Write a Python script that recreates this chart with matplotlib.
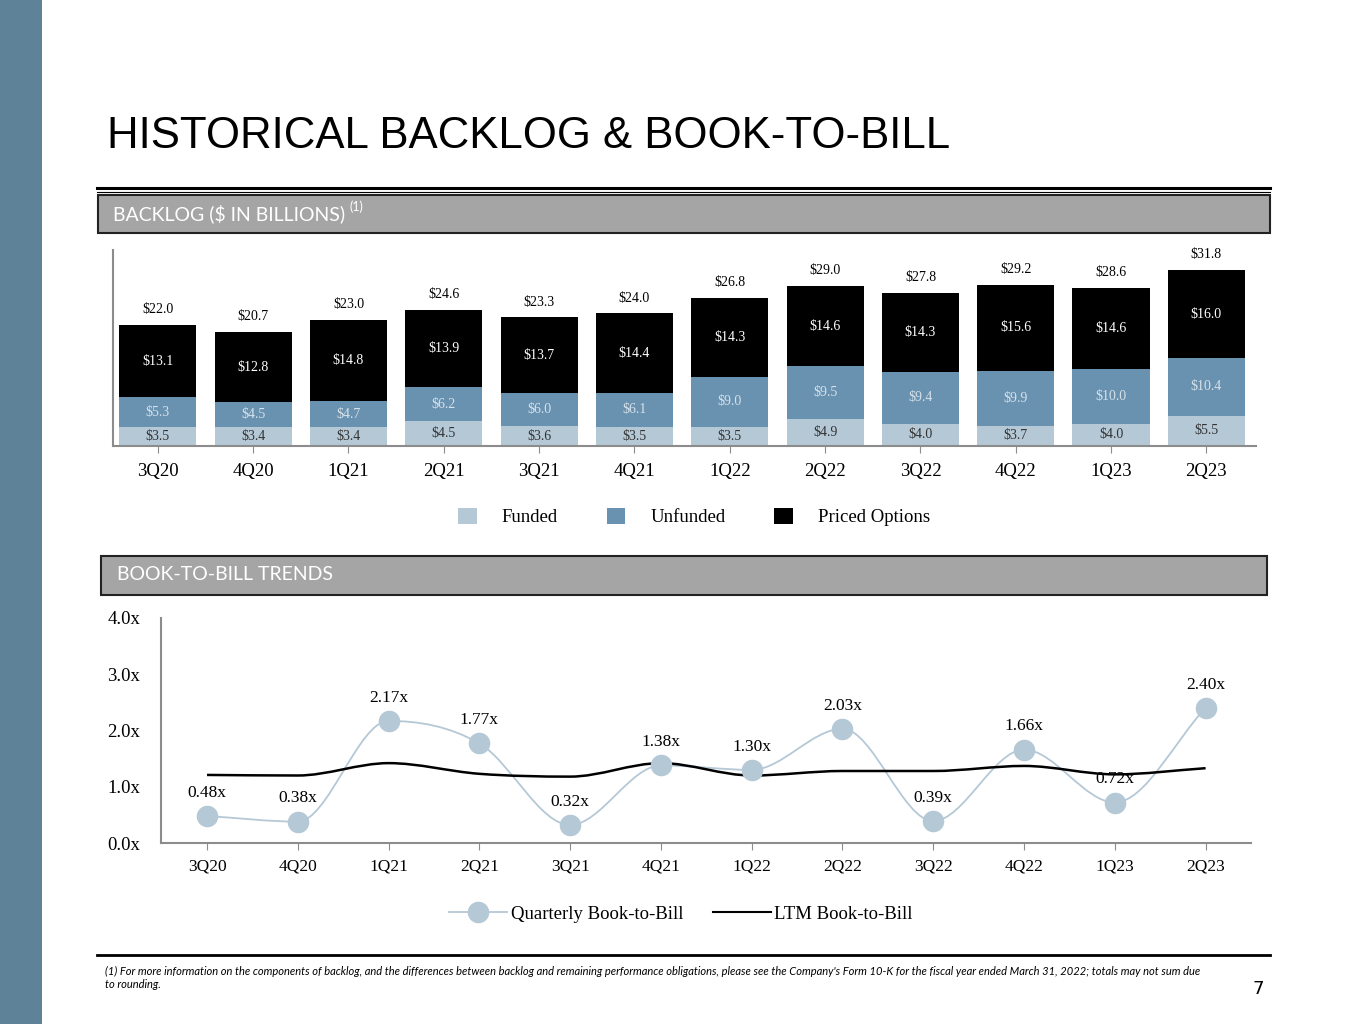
import numpy as np
import matplotlib
matplotlib.use("Agg")
import matplotlib.pyplot as plt
from matplotlib.path import Path
from matplotlib.patches import PathPatch, Rectangle
from matplotlib.lines import Line2D

# ---- data ----
quarters = ["3Q20", "4Q20", "1Q21", "2Q21", "3Q21", "4Q21",
            "1Q22", "2Q22", "3Q22", "4Q22", "1Q23", "2Q23"]
funded = [3.5, 3.4, 3.4, 4.5, 3.6, 3.5, 3.5, 4.9, 4.0, 3.7, 4.0, 5.5]
unfunded = [5.3, 4.5, 4.7, 6.2, 6.0, 6.1, 9.0, 9.5, 9.4, 9.9, 10.0, 10.4]
priced = [13.1, 12.8, 14.8, 13.9, 13.7, 14.4, 14.3, 14.6, 14.3, 15.6, 14.6, 16.0]
totals = [22.0, 20.7, 23.0, 24.6, 23.3, 24.0, 26.8, 29.0, 27.8, 29.2, 28.6, 31.8]

quarterly_btb = [0.48, 0.38, 2.17, 1.77, 0.32, 1.38, 1.30, 2.03, 0.39, 1.66, 0.72, 2.40]
ltm_btb = [1.21, 1.20, 1.42, 1.23, 1.18, 1.42, 1.20, 1.28, 1.28, 1.37, 1.22, 1.33]

y_ticks = [0, 1, 2, 3, 4]

# ---- style ----
W, H = 1365, 1024
SERIF = "Liberation Serif"
HEAD = ["Lato", "DejaVu Sans"]
TITLE = ["Liberation Sans Narrow", "Liberation Sans", "DejaVu Sans"]
c_funded = "#b5c8d6"
c_unfunded = "#6991b0"
c_priced = "#000000"
c_strip = "#5e8297"
c_box = "#a5a5a5"
c_axis = "#8c8c8c"
c_marker = "#b5c8d6"


def fx(px):
    return px / W


def fy(py):
    return 1 - py / H


def box(l, t, r, b):
    return [fx(l), fy(b), fx(r) - fx(l), fy(t) - fy(b)]


def smooth_path(xs, ys):
    # monotone cubic bezier through the data points (flat at local peaks/dips)
    xs = [float(v) for v in xs]
    ys = [float(v) for v in ys]
    n = len(xs)
    d = [(ys[i + 1] - ys[i]) / (xs[i + 1] - xs[i]) for i in range(n - 1)]
    m = [0.0] * n
    m[0], m[-1] = d[0], d[-1]
    for i in range(1, n - 1):
        if d[i - 1] * d[i] <= 0:
            m[i] = 0.0
        else:
            m[i] = (d[i - 1] + d[i]) / 2
            lim = 3 * min(abs(d[i - 1]), abs(d[i]))
            m[i] = np.sign(m[i]) * min(abs(m[i]), lim)
    verts = [(xs[0], ys[0])]
    codes = [Path.MOVETO]
    for i in range(n - 1):
        h = (xs[i + 1] - xs[i]) / 3
        verts += [(xs[i] + h, ys[i] + m[i] * h),
                  (xs[i + 1] - h, ys[i + 1] - m[i + 1] * h),
                  (xs[i + 1], ys[i + 1])]
        codes += [Path.CURVE4] * 3
    return Path(verts, codes)


fig = plt.figure(figsize=(W / 100, H / 100), dpi=100)
fig.patch.set_facecolor("white")

# left strip
fig.patches.append(Rectangle((0, 0), fx(42), 1, transform=fig.transFigure,
                             facecolor=c_strip, edgecolor="none"))

# title, sized to the width it has on the slide
title = fig.text(fx(107), fy(136), "HISTORICAL BACKLOG & BOOK-TO-BILL", family=TITLE,
                 fontsize=40, va="center", ha="left", color="black")
renderer = fig.canvas.get_renderer()
tw = title.get_window_extent(renderer).width
title.set_fontsize(min(42, 40 * 842 / tw))

# header rules
fig.add_artist(Line2D([fx(97), fx(1270)], [fy(188), fy(188)], color="black", lw=2.2))
fig.add_artist(Line2D([fx(97), fx(1270)], [fy(192), fy(192)], color="black", lw=0.8))

# section boxes
fig.patches.append(Rectangle((fx(98), fy(233)), fx(1270) - fx(98), fy(195) - fy(233),
                             transform=fig.transFigure, facecolor=c_box,
                             edgecolor="#222222", lw=1.5))
fig.text(fx(113), fy(214), "BACKLOG ($ IN BILLIONS)", family=HEAD, fontsize=14,
         color="white", va="center", ha="left")
fig.text(fx(349), fy(207), "(1)", family=HEAD, fontsize=9,
         color="white", va="center", ha="left")

fig.patches.append(Rectangle((fx(101), fy(595)), fx(1267) - fx(101), fy(556) - fy(595),
                             transform=fig.transFigure, facecolor=c_box,
                             edgecolor="#222222", lw=1.5))
fig.text(fx(117), fy(575), "BOOK-TO-BILL TRENDS", family=HEAD, fontsize=14,
         color="white", va="center", ha="left")

# ---- backlog stacked bars ----
ax1 = fig.add_axes(box(113, 250, 1256, 446))
x = np.arange(len(quarters))
bw = 0.81
b0 = np.array(funded)
b1 = b0 + np.array(unfunded)
ax1.bar(x, funded, bw, color=c_funded, label="Funded", zorder=2)
ax1.bar(x, unfunded, bw, bottom=b0, color=c_unfunded, label="Unfunded", zorder=2)
ax1.bar(x, priced, bw, bottom=b1, color=c_priced, label="Priced Options", zorder=2)

for i in range(len(quarters)):
    ax1.text(x[i], funded[i] / 2, f"${funded[i]:.1f}", ha="center", va="center",
             family=SERIF, fontsize=10, color="#333333", zorder=3)
    ax1.text(x[i], b0[i] + unfunded[i] / 2, f"${unfunded[i]:.1f}", ha="center", va="center",
             family=SERIF, fontsize=10, color="#d6e2ea", zorder=3)
    ax1.text(x[i], b1[i] + priced[i] / 2, f"${priced[i]:.1f}", ha="center", va="center",
             family=SERIF, fontsize=10, color="white", zorder=3)
    ax1.text(x[i], b1[i] + priced[i] + 1.6, f"${totals[i]:.1f}", ha="center", va="bottom",
             family=SERIF, fontsize=10, color="black", zorder=3)

ax1.set_xlim(-0.47, 11.52)
ax1.set_ylim(0, 35.5)
ax1.set_yticks([])
ax1.set_xticks(x)
ax1.set_xticklabels(quarters, family=SERIF, fontsize=13.5)
ax1.tick_params(axis="x", length=5, color=c_axis, pad=7)
for s in ["top", "right"]:
    ax1.spines[s].set_visible(False)
for s in ["left", "bottom"]:
    ax1.spines[s].set_color(c_axis)
    ax1.spines[s].set_linewidth(1.5)
ax1.patch.set_alpha(0)

fig.legend(handles=ax1.get_legend_handles_labels()[0],
           labels=["Funded", "Unfunded", "Priced Options"],
           loc="center", bbox_to_anchor=(fx(694), fy(517)), ncol=3,
           frameon=False, prop={"family": SERIF, "size": 13.5},
           handlelength=1.0, handleheight=1.0, columnspacing=2.6,
           handletextpad=1.33)

# ---- book-to-bill lines ----
ax2 = fig.add_axes(box(161, 618, 1251, 843))
ax2.add_patch(PathPatch(smooth_path(x, quarterly_btb), facecolor="none",
                        edgecolor=c_marker, lw=1.3, zorder=2))
ax2.add_patch(PathPatch(smooth_path(x, ltm_btb), facecolor="none",
                        edgecolor="black", lw=1.8, zorder=4))
ax2.plot(x, quarterly_btb, linestyle="none", marker="o", markersize=14.5,
         color=c_marker, zorder=5)
for i, v in enumerate(quarterly_btb):
    ax2.annotate(f"{v:.2f}x", (x[i], v), xytext=(0, 11), textcoords="offset points",
                 ha="center", va="bottom", family=SERIF, fontsize=12.5, zorder=3)

ax2.set_xlim(-0.507, 11.5)
ax2.set_ylim(0, 4)
ax2.set_yticks(y_ticks)
ax2.set_yticklabels([f"{t:.1f}x" for t in y_ticks], family=SERIF, fontsize=13.5)
ax2.tick_params(axis="y", length=0, pad=15)
ax2.set_xticks(x)
ax2.set_xticklabels(quarters, family=SERIF, fontsize=12.5)
ax2.tick_params(axis="x", length=5, color=c_axis, pad=6)
for s in ["top", "right"]:
    ax2.spines[s].set_visible(False)
for s in ["left", "bottom"]:
    ax2.spines[s].set_color(c_axis)
    ax2.spines[s].set_linewidth(1.5)
ax2.patch.set_alpha(0)

h_q = Line2D([], [], color=c_marker, lw=1.3, marker="o", markersize=14.5)
h_l = Line2D([], [], color="black", lw=1.5)
fig.legend(handles=[h_q, h_l], labels=["Quarterly Book-to-Bill", "LTM Book-to-Bill"],
           loc="center", bbox_to_anchor=(fx(681), fy(914)), ncol=2, frameon=False,
           prop={"family": SERIF, "size": 13.5}, handlelength=3.1,
           columnspacing=1.55, handletextpad=0.2)

# footer
fig.add_artist(Line2D([fx(97), fx(1270)], [fy(955), fy(955)], color="black", lw=2.0))
fig.text(fx(105), fy(971),
         "(1) For more information on the components of backlog, and the differences between "
         "backlog and remaining performance obligations, please see the Company's Form 10-K for "
         "the fiscal year ended March 31, 2022; totals may not sum due",
         family=HEAD, style="italic", fontsize=8.0, va="center", ha="left")
fig.text(fx(105), fy(984), "to rounding.", family=HEAD, style="italic", fontsize=8.0,
         va="center", ha="left")
fig.text(fx(1258), fy(989), "7", family=["Liberation Sans Narrow", "DejaVu Sans"],
         fontsize=13, va="center", ha="center")

fig.savefig("out.png", dpi=100)
